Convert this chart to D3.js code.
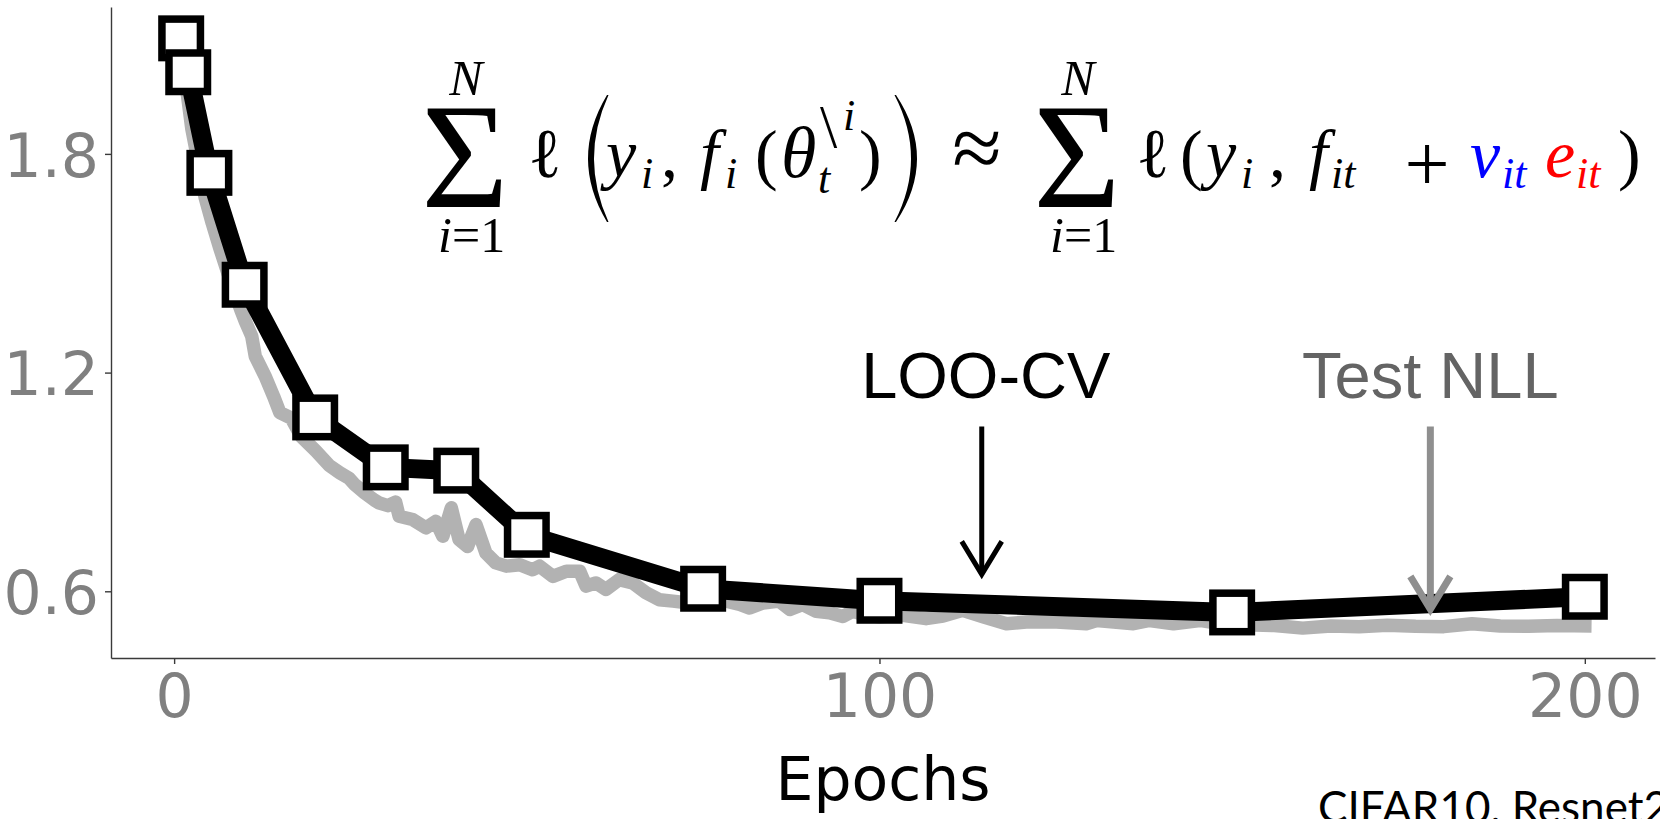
<!DOCTYPE html>
<html>
<head>
<meta charset="utf-8">
<script src="https://cdn.jsdelivr.net/npm/d3@7"></script>
<style>
	body { margin: 0; background: #fff; overflow: hidden; }
	svg { display: block; }
</style>
</head>
<body>
<div id="chart"></div>
<script>
// LOO-CV estimate at a few checkpoints (black squares)
const looEpochs = [1, 2, 5, 10, 20, 30, 40, 50, 75, 100, 150, 200];
const looValues = [2.117, 2.024, 1.748, 1.441, 1.077, 0.940, 0.931, 0.755, 0.607, 0.574, 0.542, 0.585];

// test NLL (gray curve)
const testEpochs = [1, 1.9, 2.5, 3.5, 4.4, 5.4, 6.5, 8, 9.5, 10.1, 11, 11.5, 12.9, 14.1, 15, 16.6, 18, 20.1,
	22, 23.5, 24.8, 25.5, 27, 28.4, 29.1, 30.3, 31.4, 31.9, 33.8, 35.7, 37.1, 38.1, 39.3, 40.4, 41.6, 42.8,
	44.2, 45.6, 47.1, 49, 50.8, 51.8, 53.7, 55.6, 57.5, 58.4, 59.8, 61.2, 63.1, 65, 66.9, 68.8, 70.7, 73,
	75.5, 78.3, 80.2, 81.6, 83.5, 85.8, 87.3, 89.1, 91, 92.9, 94.8, 96.2, 98, 100, 103.3, 106.6, 109, 111.8,
	114.7, 118, 120.8, 125.1, 129.3, 130.8, 136, 138.3, 141.7, 145.4, 148, 152, 156, 160, 164, 168, 172,
	176, 180, 184, 188, 192, 196, 200];
const testValues = [2.10, 1.96, 1.87, 1.77, 1.68, 1.61, 1.54, 1.45, 1.37, 1.34, 1.30, 1.245, 1.19, 1.135, 1.09, 1.075, 1.025, 0.985,
	0.945, 0.925, 0.91, 0.895, 0.87, 0.85, 0.842, 0.835, 0.845, 0.806, 0.797, 0.774, 0.792, 0.751, 0.829, 0.742, 0.723, 0.783,
	0.705, 0.678, 0.669, 0.673, 0.659, 0.669, 0.641, 0.655, 0.655, 0.614, 0.623, 0.605, 0.632, 0.623, 0.596, 0.577, 0.573, 0.568,
	0.566, 0.573, 0.564, 0.554, 0.568, 0.573, 0.55, 0.564, 0.545, 0.541, 0.531, 0.545, 0.535, 0.53, 0.534, 0.525, 0.532, 0.548,
	0.53, 0.511, 0.516, 0.516, 0.511, 0.52, 0.511, 0.52, 0.511, 0.52, 0.512, 0.508, 0.506, 0.499, 0.505, 0.503, 0.507,
	0.504, 0.503, 0.511, 0.505, 0.504, 0.506, 0.505];

const xTicks = [0, 100, 200];
const yTicks = [0.6, 1.2, 1.8];

// arrows + their labels
const arrowLabels = ["LOO-CV", "Test NLL"];
const arrowEpochs = [114.5, 178.1];
const arrowTips = [0.641, 0.545];
const arrowColors = ["#000", "#8f8f8f"];
const labelColors = ["#000", "#646464"];

const width = 1660, height = 819;
const margin = {top: 7, right: 5, bottom: 161, left: 111};

const svg = d3.select("#chart")
	.append("svg")
	.attr("width", width)
	.attr("height", height)
	.attr("viewBox", [0, 0, width, height]);

let x = d3.scaleLinear()
	.domain([-8.95, 209.95])
	.range([margin.left, width - margin.right]);

let y = d3.scaleLinear()
	.domain([0.417, 2.203])
	.range([height - margin.bottom, margin.top]);

// axes (left + bottom spines only)
let xAxis = g => g
	.attr("transform", `translate(0,${height - margin.bottom})`)
	.call(d3.axisBottom(x).tickValues(xTicks).tickSize(6).tickSizeOuter(0).tickPadding(10).tickFormat(d3.format("d")))
	.call(g => g.select(".domain").attr("stroke", "#3a3a3a").attr("stroke-width", 1.4))
	.call(g => g.selectAll(".tick line").attr("stroke", "#3a3a3a").attr("stroke-width", 1.4))
	.call(g => g.selectAll(".tick text")
		.attr("font-family", "DejaVu Sans")
		.attr("font-size", 60)
		.attr("fill", "#808080"));

let yAxis = g => g
	.attr("transform", `translate(${margin.left},0)`)
	.call(d3.axisLeft(y).tickValues(yTicks).tickSize(6).tickSizeOuter(0).tickPadding(6).tickFormat(d3.format(".1f")))
	.call(g => g.select(".domain").attr("stroke", "#3a3a3a").attr("stroke-width", 1.4))
	.call(g => g.selectAll(".tick line").attr("stroke", "#3a3a3a").attr("stroke-width", 1.4))
	.call(g => g.selectAll(".tick text")
		.attr("font-family", "DejaVu Sans")
		.attr("font-size", 60)
		.attr("dy", "0.37em")
		.attr("fill", "#808080"));

svg.append("g").call(xAxis);
svg.append("g").call(yAxis);

svg.append("text")
	.attr("x", (margin.left + width - margin.right) / 2)
	.attr("y", 800)
	.attr("text-anchor", "middle")
	.attr("font-family", "DejaVu Sans")
	.attr("font-size", 60)
	.attr("fill", "#000")
	.text("Epochs");

// curves
const testData = testEpochs.map((e, i) => ({epoch: e, value: testValues[i]}));
const looData = looEpochs.map((e, i) => ({epoch: e, value: looValues[i]}));

let line = d3.line()
	.x(d => x(d.epoch))
	.y(d => y(d.value));

svg.append("path")
	.datum(testData)
	.attr("fill", "none")
	.attr("stroke", "#b2b2b2")
	.attr("stroke-width", 13.5)
	.attr("stroke-linejoin", "round")
	.attr("stroke-linecap", "square")
	.attr("d", line);

svg.append("path")
	.datum(looData)
	.attr("fill", "none")
	.attr("stroke", "#000")
	.attr("stroke-width", 19)
	.attr("stroke-linejoin", "round")
	.attr("stroke-linecap", "square")
	.attr("d", line);

const side = 38.5;
svg.append("g")
	.selectAll("rect")
	.data(looData)
	.join("rect")
	.attr("x", d => x(d.epoch) - side / 2)
	.attr("y", d => y(d.value) - side / 2)
	.attr("width", side)
	.attr("height", side)
	.attr("fill", "#fff")
	.attr("stroke", "#000")
	.attr("stroke-width", 7.5);

// arrows
const arrowTop = 1.052, labelBase = 1.130;
arrowLabels.forEach((lab, i) => {
	const ax = x(arrowEpochs[i]);
	const tip = y(arrowTips[i]);
	const g = svg.append("g");
	const sw = i === 0 ? 5 : 7;
	g.append("line")
		.attr("x1", ax).attr("x2", ax)
		.attr("y1", y(arrowTop)).attr("y2", tip - 2)
		.attr("stroke", arrowColors[i])
		.attr("stroke-width", sw);
	g.append("path")
		.attr("d", `M${ax - 20},${tip - 35}L${ax},${tip - 2}L${ax + 20},${tip - 35}`)
		.attr("fill", "none")
		.attr("stroke", arrowColors[i])
		.attr("stroke-width", sw)
		.attr("stroke-linejoin", "miter");
	g.append("text")
		.attr("x", ax + (i === 0 ? 4 : 0))
		.attr("y", y(labelBase))
		.attr("text-anchor", "middle")
		.attr("font-family", "Liberation Sans, Arial, sans-serif")
		.attr("font-size", 65)
		.attr("fill", labelColors[i])
		.text(lab);
});

// the LaTeX formula: one text per side, glyphs placed as tspans
const formula = svg.append("g")
	.attr("font-family", "Liberation Serif, serif");

function side_(parts) {
	const t = formula.append("text");
	parts.forEach(p => {
		t.append("tspan")
			.attr("x", p[1])
			.attr("y", p[2])
			.attr("font-size", p[3])
			.attr("font-style", p[4] && p[4].up ? "normal" : "italic")
			.attr("fill", (p[4] && p[4].color) || "#000")
			.attr("text-anchor", (p[4] && p[4].anchor) || "start")
			.text(p[0]);
	});
}

function bigParen(xEnd, xMid, dir) {
	const y0 = 95, y1 = 222, ym = (y0 + y1) / 2, w = 6, s = dir * 1.5;
	const c1 = 2 * xMid - xEnd;
	const c2 = 2 * (xMid + dir * w) - (xEnd + s);
	formula.append("path")
		.attr("d", `M${xEnd},${y0}Q${c1},${ym} ${xEnd},${y1}L${xEnd + s},${y1}Q${c2},${ym} ${xEnd + s},${y0}Z`)
		.attr("fill", "#000");
}

const B = 176.7, SUB = 188, FS = 68, SS = 44;
const up = {up: true}, mid = {up: true, anchor: "middle"};
const blue = {color: "#0000ff"}, red = {color: "#ff0000"};

function sumParts(cx) {
	return [
		["N", cx + 1, 95, 50, {anchor: "middle"}],
		["\u03a3", cx, 207, 150, mid],
		["i", cx - 27, 251.7, 50],
		["=1", cx - 13, 251.7, 50, up]
	];
}

side_([
	...sumParts(465),
	["\u2113", 528, B, 70, up],
	["y", 606, B, FS],
	["i", 641, SUB, SS],
	[",", 661, B, FS, up],
	["f", 700, B, FS],
	["i", 725, SUB, SS],
	["(", 755, B, FS, up],
	["\u03b8", 781, B, 72],
	["\\", 820, 147, 62, up],
	["i", 843, 130, SS],
	["t", 818, 193, SS],
	[")", 859, B, FS, up],
	["\u2248", 977, 178, 90, mid]
]);
bigParen(607, 588, 1);
bigParen(896, 917, -1);

side_([
	...sumParts(1077),
	["\u2113", 1136, B, 70, up],
	["(", 1180, B, FS, up],
	["y", 1206, B, FS],
	["i", 1241, SUB, SS],
	[",", 1269, B, FS, up],
	["f", 1309, B, FS],
	["it", 1331, SUB, SS],
	["+", 1427, 191, 80, mid],
	["v", 1470, B, FS, blue],
	["it", 1502, SUB, SS, blue],
	["e", 1545, B, FS, red],
	["it", 1576, SUB, SS, red],
	[")", 1618, B, FS, up]
]);

// caption, cut off by the bottom edge in the original
svg.append("text")
	.attr("x", 1318)
	.attr("y", 823)
	.attr("font-family", "Lato, sans-serif")
	.attr("font-size", 44)
	.attr("fill", "#000")
	.text("CIFAR10, Resnet20");
</script>
</body>
</html>
